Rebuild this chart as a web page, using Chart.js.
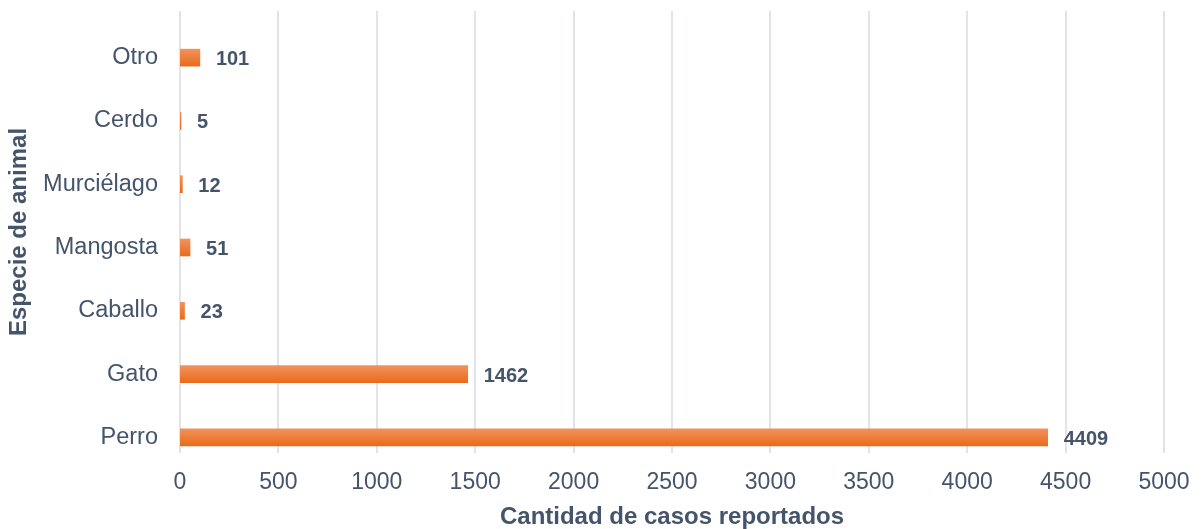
<!DOCTYPE html>
<html>
<head>
<meta charset="utf-8">
<script src="https://cdn.jsdelivr.net/npm/chart.js@4"></script>
<style>
  html, body { margin: 0; padding: 0; background: #ffffff; }
  #wrap { width: 1204px; height: 529px; }
</style>
</head>
<body>
<div id="wrap"><canvas id="grafico" width="1204" height="529"></canvas></div>
<script>
const especies = ['Otro', 'Cerdo', 'Murciélago', 'Mangosta', 'Caballo', 'Gato', 'Perro'];
const casos = [101, 5, 12, 51, 23, 1462, 4409];
const ticksX = [0, 500, 1000, 1500, 2000, 2500, 3000, 3500, 4000, 4500, 5000];

const colorTexto = '#44546a';
const fuente = "'Liberation Sans', Arial, sans-serif";

// lineas verticales de la cuadricula (un poco mas arriba que el area de barras)
const cuadricula = {
    id: 'cuadricula',
    beforeDatasetsDraw(chart) {
        const ctx = chart.ctx;
        const x = chart.scales.x;
        const area = chart.chartArea;
        ctx.save();
        ctx.strokeStyle = '#e1e5eb';
        ctx.lineWidth = 2;
        ticksX.forEach(v => {
            const px = Math.round(x.getPixelForValue(v));
            ctx.beginPath();
            ctx.moveTo(px, area.top - 15);
            ctx.lineTo(px, area.bottom - 16);
            ctx.stroke();
        });
        ctx.restore();
    }
};

// valores al final de cada barra + titulo del eje vertical
const etiquetas = {
    id: 'etiquetas',
    afterDatasetsDraw(chart) {
        const ctx = chart.ctx;
        const meta = chart.getDatasetMeta(0);
        const area = chart.chartArea;
        ctx.save();
        ctx.fillStyle = colorTexto;
        ctx.font = 'bold 20px ' + fuente;
        ctx.textAlign = 'left';
        ctx.textBaseline = 'middle';
        meta.data.forEach((bar, i) => {
            ctx.fillText(String(casos[i]), bar.x + 16, bar.y + 2);
        });

        ctx.translate(19, (area.top - 15 + area.bottom - 16) / 2);
        ctx.rotate(-Math.PI / 2);
        ctx.textAlign = 'center';
        ctx.font = 'bold 24px ' + fuente;
        ctx.fillText('Especie de animal', 0, 0);
        ctx.restore();
    }
};

const ctx = document.getElementById('grafico').getContext('2d');

function degradado(context) {
    const chart = context.chart;
    const y = chart.scales.y;
    if (!y || context.dataIndex === undefined) return '#ed7424';
    const cy = y.getPixelForValue(context.dataIndex);
    if (!Number.isFinite(cy)) return '#ed7424';
    const g = chart.ctx.createLinearGradient(0, cy - 8.5, 0, cy + 8.5);
    g.addColorStop(0, '#f1925c');
    g.addColorStop(1, '#ea6b1a');
    return g;
}

const grafico = new Chart(ctx, {
    type: 'bar',
    data: {
        labels: especies,
        datasets: [{
            data: casos,
            backgroundColor: degradado,
            borderWidth: 0,
            barThickness: 17
        }]
    },
    plugins: [cuadricula, etiquetas],
    options: {
        indexAxis: 'y',
        responsive: false,
        animation: false,
        layout: { padding: { top: 26, right: 40, left: 0, bottom: 0 } },
        plugins: {
            legend: { display: false },
            tooltip: { enabled: false }
        },
        scales: {
            x: {
                min: 0,
                max: 5000,
                afterBuildTicks(scale) {
                    scale.ticks = ticksX.map(v => ({ value: v }));
                },
                afterFit(scale) { scale.height = 60; },
                grid: { display: false, drawTicks: false },
                border: { display: false },
                ticks: {
                    color: colorTexto,
                    font: { family: fuente, size: 23 },
                    padding: 0,
                    callback: v => String(v)
                },
                title: {
                    display: true,
                    text: 'Cantidad de casos reportados',
                    color: colorTexto,
                    font: { family: fuente, size: 24, weight: 'bold' },
                    padding: { top: 4, bottom: -3 }
                }
            },
            y: {
                afterFit(scale) {
                    scale.width = 180;
                    scale.paddingTop = 0;
                    scale.paddingBottom = 0;
                },
                grid: { display: false, drawTicks: false },
                border: { display: false },
                ticks: {
                    color: colorTexto,
                    font: { family: fuente, size: 23.5 },
                    padding: 22
                }
            }
        }
    }
});
</script>
</body>
</html>
